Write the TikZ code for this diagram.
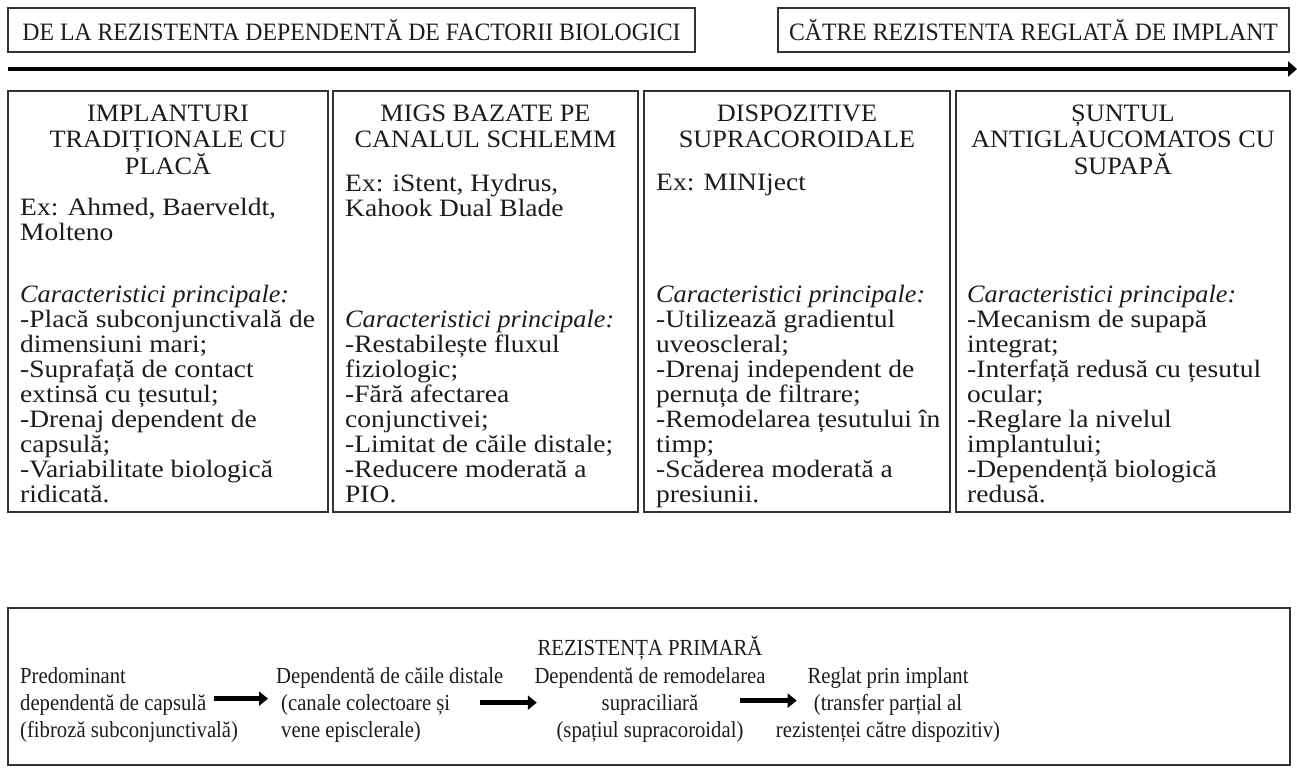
\documentclass[tikz,border=0pt]{standalone}
\usepackage{fontspec}
\setmainfont{Liberation Serif}
\newfontfamily\headfont{Liberation Serif}[FakeStretch=0.95]
\newfontfamily\titlefont{Liberation Serif}[FakeStretch=1.05]
\newfontfamily\bodyfont{Liberation Serif}[FakeStretch=1.1]
\newfontfamily\lowfont{Liberation Serif}[FakeStretch=0.9]
\usepackage{tikz}
\usetikzlibrary{arrows.meta,positioning}
\definecolor{frameGrey}{HTML}{333333}
\definecolor{inkBlack}{HTML}{1C1C1C}

\begin{document}
\begin{tikzpicture}[x=1pt,y=-1pt,
    frame/.style={draw=frameGrey,line width=1.6pt,inner sep=0pt},
    headtext/.style={font=\headfont\fontsize{25}{27}\selectfont,text=inkBlack},
    coltitle/.style={font=\titlefont\fontsize{25}{26.5}\selectfont,align=center,text=inkBlack,inner sep=0pt,anchor=north},
    coltext/.style={font=\bodyfont\fontsize{25}{25}\selectfont,align=left,text=inkBlack,inner sep=0pt,anchor=north west},
    lowtext/.style={font=\lowfont\fontsize{23}{27}\selectfont,text=inkBlack,inner sep=0pt,anchor=north},
    flow/.style={line width=5pt,-{Triangle[length=9pt,width=14pt]}},
    axis/.style={line width=3.5pt,-{Triangle[length=9pt,width=15pt]}}]
  \useasboundingbox (0,0) rectangle (1297,773);

  % header boxes and direction axis
  \node[frame,headtext,minimum width=687pt,minimum height=44pt] (fromBio) at (351.5,30) {DE LA REZISTENTA DEPENDENTĂ DE FACTORII BIOLOGICI};
  \node[frame,headtext,minimum width=511pt,minimum height=44pt] (toImpl) at (1033.5,30) {CĂTRE REZISTENTA REGLATĂ DE IMPLANT};
  \coordinate (axisStart) at (8,69);
  \coordinate (axisEnd) at (1297,69);
  \draw[axis] (axisStart) -- (axisEnd);

  % the four device columns
  \node[frame,minimum width=320pt,minimum height=421pt] (colPlate) at (168,301.5) {};
  \node[frame,minimum width=305pt,minimum height=421pt] (colSchlemm) at (485.5,301.5) {};
  \node[frame,minimum width=306pt,minimum height=421pt] (colSupra) at (797,301.5) {};
  \node[frame,minimum width=334pt,minimum height=421pt] (colValve) at (1123,301.5) {};

  \node[coltitle] (plateTitle) at (168,104.5) {IMPLANTURI\\TRADIȚIONALE CU\\PLACĂ};
  \node[coltext] (plateEx) at (20,198) {Ex: Ahmed, Baerveldt,\\Molteno};
  \node[coltext] (plateList) at (20,285) {{\titlefont\itshape Caracteristici principale:}\\
    -Placă subconjunctivală de\\dimensiuni mari;\\-Suprafață de contact\\extinsă cu țesutul;\\
    -Drenaj dependent de\\capsulă;\\-Variabilitate biologică\\ridicată.};

  \node[coltitle] (schlemmTitle) at (485.5,104.5) {MIGS BAZATE PE\\CANALUL SCHLEMM};
  \node[coltext] (schlemmEx) at (345,174) {Ex: iStent, Hydrus,\\Kahook Dual Blade};
  \node[coltext] (schlemmList) at (345,310) {{\titlefont\itshape Caracteristici principale:}\\
    -Restabilește fluxul\\fiziologic;\\-Fără afectarea\\conjunctivei;\\
    -Limitat de căile distale;\\-Reducere moderată a\\PIO.};

  \node[coltitle] (supraTitle) at (797,104.5) {DISPOZITIVE\\SUPRACOROIDALE};
  \node[coltext] (supraEx) at (656,174) {Ex: MINIject};
  \node[coltext] (supraList) at (656,285) {{\titlefont\itshape Caracteristici principale:}\\
    -Utilizează gradientul\\uveoscleral;\\-Drenaj independent de\\pernuța de filtrare;\\
    -Remodelarea țesutului în\\timp;\\-Scăderea moderată a\\presiunii.};

  \node[coltitle] (valveTitle) at (1123,104.5) {ȘUNTUL\\ANTIGLAUCOMATOS CU\\SUPAPĂ};
  \node[coltext] (valveList) at (967,285) {{\titlefont\itshape Caracteristici principale:}\\
    -Mecanism de supapă\\integrat;\\-Interfață redusă cu țesutul\\ocular;\\
    -Reglare la nivelul\\implantului;\\-Dependență biologică\\redusă.};

  % primary resistance strip
  \node[frame,minimum width=1282pt,minimum height=157pt] (primary) at (649,686.5) {};
  \node[lowtext,anchor=center] (primaryTitle) at (650,648) {REZISTENȚA PRIMARĂ};
  \node[lowtext,anchor=north west,align=left] (capsule) at (20,667) {Predominant\\dependentă de capsulă\\(fibroză subconjunctivală)};
  \node[lowtext,anchor=north west,align=left] (distal) at (276,667) {Dependentă de căile distale\\\hspace*{5pt}(canale colectoare și\\\hspace*{5pt}vene episclerale)};
  \node[lowtext,align=center] (supracil) at (650,667) {Dependentă de remodelarea\\supraciliară\\(spațiul supracoroidal)};
  \node[lowtext,align=center] (implant) at (888,667) {Reglat prin implant\\(transfer parțial al\\rezistenței către dispozitiv)};

  \draw[flow] ([xshift=-24pt,yshift=6pt]capsule.east) -- ([xshift=-8pt,yshift=6pt]distal.west);
  \draw[flow] ([xshift=-23pt,yshift=2pt]distal.east) -- ([xshift=2.5pt,yshift=2pt]supracil.west);
  \draw[flow] ([xshift=-25.5pt,yshift=4pt]supracil.east) -- ([xshift=21pt,yshift=4pt]implant.west);
\end{tikzpicture}
\end{document}
